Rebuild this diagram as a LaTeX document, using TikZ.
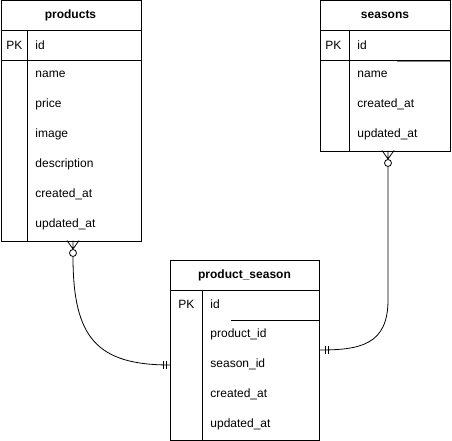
\documentclass[tikz,border=0pt]{standalone}
\usepackage{fontspec}
\setmainfont{Liberation Sans}
\usetikzlibrary{calc}
\begin{document}
\begin{tikzpicture}[x=1pt,y=-1pt,line width=0.9pt,
  tbl/.style={draw,rectangle,anchor=north west,inner sep=0pt},
  hdr/.style={font=\fontsize{12}{14}\selectfont\bfseries,inner sep=0pt},
  fld/.style={font=\fontsize{12}{14}\selectfont,anchor=west,inner sep=0pt},
  rel/.style={line width=0.8pt}]
\useasboundingbox (0,0) rectangle (452,441);

% ---- products ----
\node[tbl,minimum width=140pt,minimum height=240pt] (products) at (0.5,0.5) {};
\draw (0.5,30) -- (140.5,30) (0.5,60) -- (140.5,60) (27,30) -- (27,240.5);
\node[hdr] (p-title) at (70.5,15) {products};
\node[fld] (p-pk) at (6,45) {PK};
\node[fld] (p-id) at (35,45) {id};
\node[fld] (p-name) at (35,74) {name};
\node[fld] (p-price) at (35,104) {price};
\node[fld] (p-image) at (35,134) {image};
\node[fld] (p-desc) at (35,164) {description};
\node[fld] (p-cre) at (35,194) {created\_at};
\node[fld] (p-upd) at (35,224) {updated\_at};

% ---- seasons ----
\node[tbl,minimum width=130pt,minimum height=150pt] (seasons) at (320,0.5) {};
\draw (320,30) -- (450,30) (320,60) -- (450,60) (349,30) -- (349,150.5);
\draw[gray,line width=0.7pt] (397,61.2) -- (450,61.2);
\node[hdr] (s-title) at (385,15) {seasons};
\node[fld] (s-pk) at (325,45) {PK};
\node[fld] (s-id) at (357,45) {id};
\node[fld] (s-name) at (357,74) {name};
\node[fld] (s-cre) at (357,104) {created\_at};
\node[fld] (s-upd) at (357,134) {updated\_at};

% ---- product_season ----
\node[tbl,minimum width=149pt,minimum height=180pt] (ps) at (170,260) {};
\draw (170,290) -- (319,290) (202,290) -- (202,440);
\draw (231,320) -- (319,320);
\node[hdr] (ps-title) at (244.5,275) {product\_season};
\node[fld] (ps-pk) at (178,304) {PK};
\node[fld] (ps-id) at (210,304) {id};
\node[fld] (ps-pid) at (210,334) {product\_id};
\node[fld] (ps-sid) at (210,364) {season\_id};
\node[fld] (ps-cre) at (210,394) {created\_at};
\node[fld] (ps-upd) at (210,424) {updated\_at};

% ---- relation ends ----
\coordinate (p-foot) at (73,240.5);
\coordinate (p-tip) at (73,249);
\node[draw,circle,inner sep=0pt,minimum size=7pt,line width=0.8pt] (p-circ) at (73,253) {};
\coordinate (ps-left) at (170,365);

\coordinate (s-foot) at (388,150.5);
\coordinate (s-tip) at (388,159);
\node[draw,circle,inner sep=0pt,minimum size=7pt,line width=0.8pt] (s-circ) at (388,163) {};
\coordinate (s-bend) at (388,300);
\coordinate (ps-right) at (319,350);

% products (zero or many) -> product_season (exactly one)
\draw[rel] ($(p-foot)+(-6,0)$) -- (p-tip) -- ($(p-foot)+(6,0)$) (p-foot) -- (p-tip) -- (p-circ.north);
\draw[rel] (p-circ.south) .. controls (73,338) and (97,365) .. (ps-left);
\draw[rel] ($(ps-left)+(-7,-4)$) -- ($(ps-left)+(-7,4)$) ($(ps-left)+(-4,-4)$) -- ($(ps-left)+(-4,4)$);

% seasons (zero or many) -> product_season (exactly one)
\draw[rel] ($(s-foot)+(-6,0)$) -- (s-tip) -- ($(s-foot)+(6,0)$) (s-foot) -- (s-tip) -- (s-circ.north);
\draw[rel] (s-circ.south) -- (s-bend) .. controls (388,345) and (360,350) .. (ps-right);
\draw[rel] ($(ps-right)+(6,-4)$) -- ($(ps-right)+(6,4)$) ($(ps-right)+(9,-4)$) -- ($(ps-right)+(9,4)$);
\end{tikzpicture}
\end{document}
